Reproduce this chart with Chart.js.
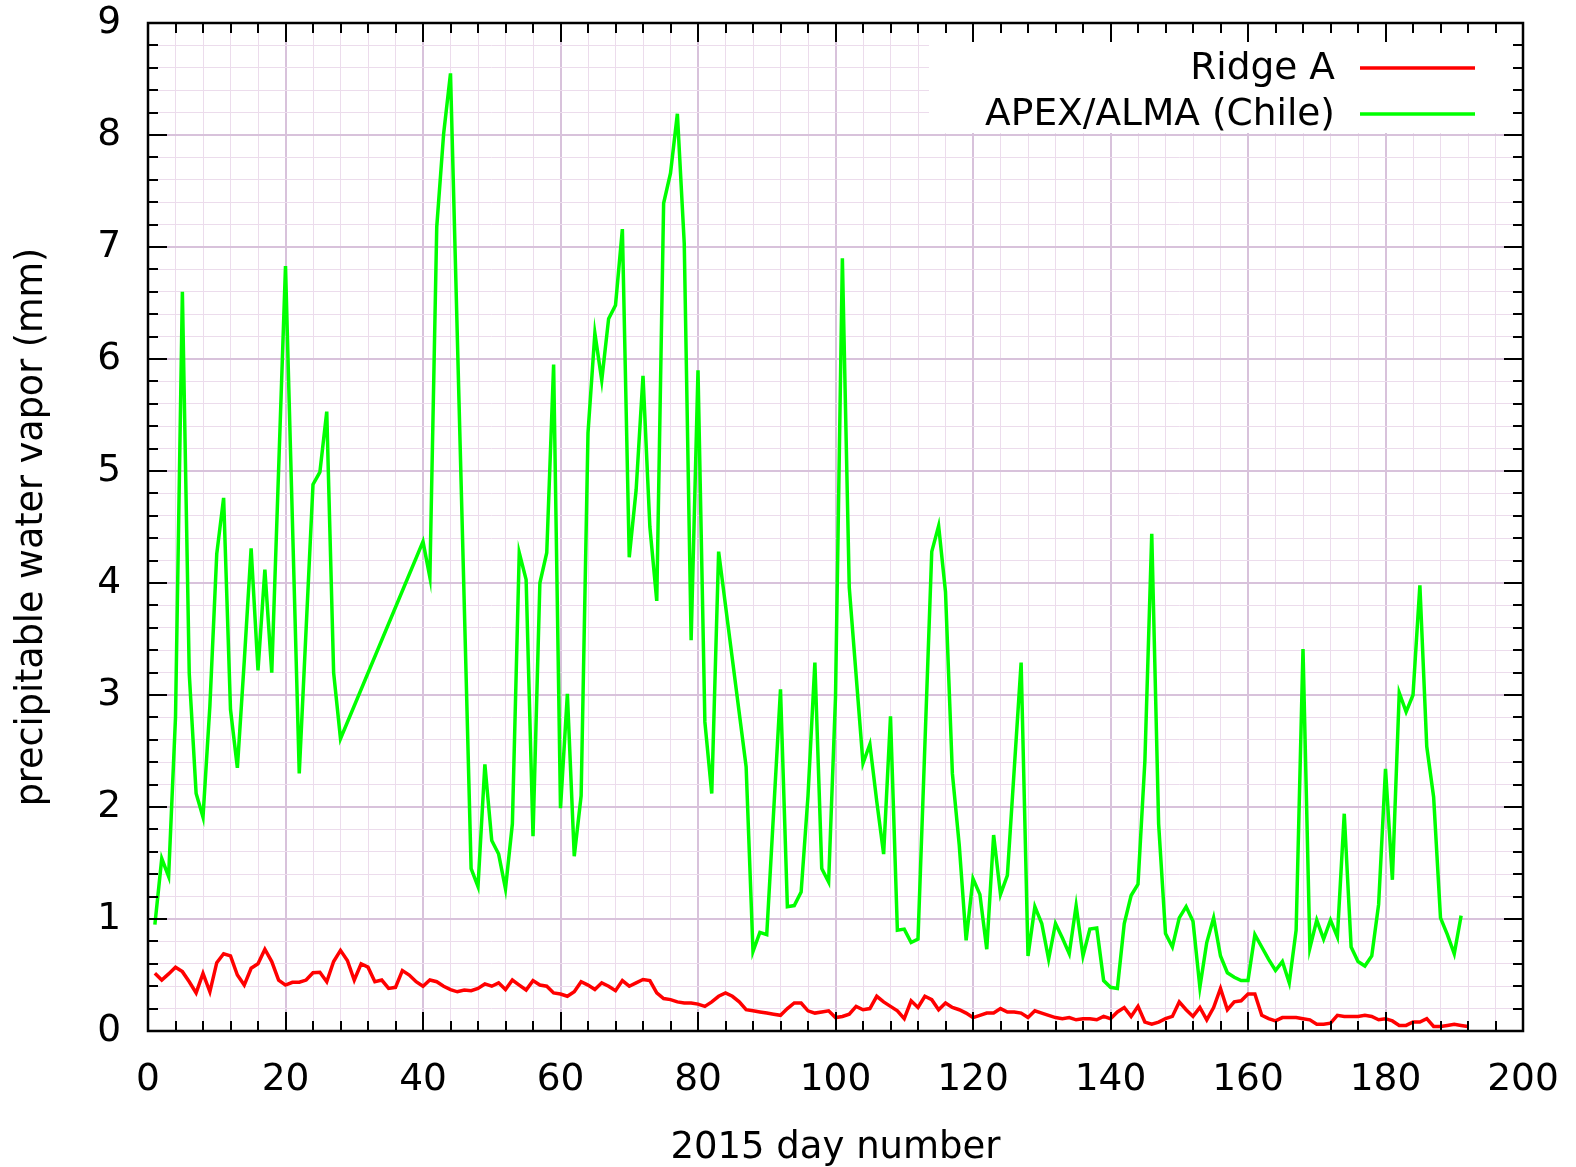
<!DOCTYPE html>
<html>
<head>
<meta charset="utf-8">
<script src="https://cdn.jsdelivr.net/npm/chart.js@4/dist/chart.umd.min.js"></script>
<style>
  html, body { margin: 0; padding: 0; background: #fff; }
  #wrap { width: 1576px; height: 1167px; }
</style>
</head>
<body>
<div id="wrap"><canvas id="c" width="1576" height="1167"></canvas></div>
<script>
// ---- data ----
const seriesNames = ['Ridge A', 'APEX/ALMA (Chile)'];

const ridgeDays = [1,2,3,4,5,6,7,8,9,10,11,12,13,14,15,16,17,18,19,20,21,22,23,24,25,26,27,28,29,30,
  31,32,33,34,35,36,37,38,39,40,41,42,43,44,45,46,47,48,49,50,51,52,53,54,55,56,57,58,59,60,
  61,62,63,64,65,66,67,68,69,70,71,72,73,74,75,76,77,78,79,80,81,82,83,84,85,86,87,88,89,90,
  91,92,93,94,95,96,97,98,99,100,101,102,103,104,105,106,107,108,109,110,111,112,113,114,115,116,117,118,119,120,
  121,122,123,124,125,126,127,128,129,130,131,132,133,134,135,136,137,138,139,140,141,142,143,144,145,146,147,148,149,150,
  151,152,153,154,155,156,157,158,159,160,161,162,163,164,165,166,167,168,169,170,171,172,173,174,175,176,177,178,179,180,
  181,182,183,184,185,186,187,188,189,190,191,192];
const ridgeValues = [0.515,0.455,0.51,0.57,0.53,0.44,0.34,0.515,0.35,0.61,0.69,0.67,0.50,0.41,0.56,0.60,0.73,0.62,0.455,0.41,
  0.435,0.435,0.455,0.52,0.525,0.44,0.62,0.72,0.63,0.455,0.60,0.57,0.44,0.455,0.38,0.39,0.54,0.50,0.44,0.40,
  0.455,0.44,0.40,0.37,0.35,0.366,0.36,0.38,0.42,0.40,0.43,0.37,0.455,0.41,0.366,0.45,0.41,0.40,0.34,0.33,
  0.31,0.35,0.44,0.41,0.37,0.43,0.40,0.36,0.45,0.40,0.43,0.46,0.45,0.34,0.29,0.28,0.26,0.25,0.25,0.24,
  0.22,0.26,0.31,0.34,0.31,0.26,0.19,0.18,0.17,0.16,0.15,0.14,0.20,0.25,0.25,0.18,0.16,0.17,0.18,0.12,
  0.13,0.15,0.22,0.19,0.20,0.31,0.26,0.22,0.18,0.11,0.27,0.21,0.31,0.28,0.19,0.25,0.21,0.19,0.16,0.12,
  0.14,0.16,0.16,0.20,0.17,0.17,0.16,0.12,0.18,0.16,0.14,0.12,0.11,0.12,0.10,0.11,0.11,0.10,0.13,0.11,
  0.17,0.21,0.13,0.22,0.08,0.06,0.08,0.11,0.13,0.26,0.19,0.13,0.21,0.10,0.21,0.38,0.19,0.26,0.27,0.33,
  0.33,0.14,0.11,0.09,0.12,0.12,0.12,0.11,0.10,0.06,0.06,0.07,0.14,0.13,0.13,0.13,0.14,0.13,0.10,0.11,
  0.09,0.05,0.05,0.08,0.08,0.11,0.04,0.04,0.05,0.06,0.05,0.04];

const apexDays = [1,2,3,4,5,6,7,8,9,10,11,12,13,14,15,16,17,18,20,22,24,25,26,27,28,
  40,41,42,43,44,47,48,49,50,51,52,53,54,55,56,57,58,59,60,61,62,63,64,65,66,67,68,69,70,
  71,72,73,74,75,76,77,78,79,80,81,82,83,87,88,89,90,92,93,94,95,96,97,98,99,100,
  101,102,104,105,106,107,108,109,110,111,112,114,115,116,117,118,119,120,121,122,123,124,125,127,128,129,130,
  131,132,133,134,135,136,137,138,139,140,141,142,143,144,145,146,147,148,149,150,151,152,153,154,155,156,157,158,159,160,
  161,162,163,164,165,166,167,168,169,170,171,172,173,174,175,176,177,178,179,180,181,182,183,184,185,186,187,188,189,190,191];
const apexValues = [0.95,1.54,1.38,2.8,6.6,3.19,2.12,1.91,2.9,4.26,4.76,2.87,2.35,3.3,4.31,3.22,4.12,3.2,6.83,2.3,4.88,4.99,5.53,3.2,2.61,
  4.37,4.05,7.18,8.01,8.55,1.45,1.29,2.38,1.70,1.58,1.27,1.85,4.27,4.03,1.74,4.0,4.27,5.95,1.99,3.01,1.56,2.10,5.34,6.23,5.81,6.36,6.48,7.16,4.23,
  4.83,5.85,4.5,3.84,7.39,7.66,8.19,7.03,3.49,5.9,2.76,2.12,4.28,2.36,0.71,0.88,0.86,3.05,1.11,1.12,1.24,2.1,3.29,1.45,1.33,2.98,
  6.90,3.96,2.39,2.56,2.05,1.58,2.81,0.90,0.91,0.79,0.82,4.28,4.51,3.92,2.30,1.66,0.81,1.36,1.22,0.73,1.75,1.22,1.39,3.29,0.67,1.11,0.96,
  0.64,0.96,0.83,0.69,1.12,0.67,0.91,0.92,0.45,0.39,0.38,0.96,1.21,1.31,2.41,4.44,1.85,0.87,0.75,1.01,1.11,0.98,0.39,0.79,1.01,0.67,0.52,0.48,0.45,0.45,
  0.86,0.75,0.64,0.54,0.62,0.43,0.90,3.41,0.74,0.99,0.82,0.99,0.84,1.94,0.75,0.62,0.58,0.67,1.13,2.34,1.35,3.02,2.85,3.00,3.98,2.54,2.09,1.01,0.86,0.69,1.03];

const xTickLabels = [0, 20, 40, 60, 80, 100, 120, 140, 160, 180, 200];
const yTickLabels = [0, 1, 2, 3, 4, 5, 6, 7, 8, 9];

// ---- styling ----
const FONT = 'DejaVu Sans';
const MAJOR_GRID = '#d8c2db';
const MINOR_GRID = '#ecdcec';

function isMajorX(v) { return xTickLabels.includes(Math.round(v)) && Math.abs(v - Math.round(v)) < 1e-6; }
function isMajorY(v) { return yTickLabels.includes(Math.round(v)) && Math.abs(v - Math.round(v)) < 1e-6; }

function toPoints(xs, ys) { return xs.map((x, i) => ({ x: x, y: ys[i] })); }

const framePlugin = {
  id: 'framePlugin',
  afterDatasetsDraw(chart) {
    const ctx = chart.ctx;
    const a = chart.chartArea;
    ctx.save();
    // legend (key) box, opaque white as in the reference
    const boxLeft = a.right - 594, boxBottom = a.top + 110;
    ctx.fillStyle = '#ffffff';
    ctx.fillRect(boxLeft, a.top, a.right - boxLeft, boxBottom - a.top);
    ctx.font = '37.5px "' + FONT + '"';
    ctx.textAlign = 'right';
    ctx.textBaseline = 'middle';
    chart.data.datasets.forEach((ds, i) => {
      const y = a.top + 45 + i * 46;
      ctx.fillStyle = '#000';
      ctx.fillText(ds.label, a.right - 188, y + 1);
      ctx.strokeStyle = ds.borderColor;
      ctx.lineWidth = 3.5;
      ctx.beginPath();
      ctx.moveTo(a.right - 163, y);
      ctx.lineTo(a.right - 48, y);
      ctx.stroke();
    });
    // tick marks pointing inward on all four sides
    ctx.strokeStyle = '#000';
    ctx.lineWidth = 2;
    const xs = chart.scales.x, ys = chart.scales.y;
    xs.ticks.forEach(t => {
      const px = Math.round(xs.getPixelForValue(t.value));
      const len = isMajorX(t.value) ? 19 : 10;
      ctx.beginPath();
      ctx.moveTo(px, a.bottom); ctx.lineTo(px, a.bottom - len);
      ctx.moveTo(px, a.top); ctx.lineTo(px, a.top + len);
      ctx.stroke();
    });
    ys.ticks.forEach(t => {
      const py = Math.round(ys.getPixelForValue(t.value));
      const len = isMajorY(t.value) ? 19 : 10;
      ctx.beginPath();
      ctx.moveTo(a.left, py); ctx.lineTo(a.left + len, py);
      ctx.moveTo(a.right, py); ctx.lineTo(a.right - len, py);
      ctx.stroke();
    });
    ctx.lineWidth = 2.5;
    ctx.strokeRect(a.left, a.top, a.right - a.left, a.bottom - a.top);
    ctx.restore();
  }
};

Chart.defaults.font.family = FONT;
Chart.defaults.color = '#000';

new Chart(document.getElementById('c'), {
  type: 'line',
  data: {
    datasets: [
      { label: seriesNames[0], data: toPoints(ridgeDays, ridgeValues), borderColor: '#ff0000',
        borderWidth: 3.5, pointRadius: 0, tension: 0, fill: false },
      { label: seriesNames[1], data: toPoints(apexDays, apexValues), borderColor: '#00ff00',
        borderWidth: 3.5, pointRadius: 0, tension: 0, fill: false }
    ]
  },
  options: {
    responsive: false,
    animation: false,
    devicePixelRatio: 1,
    layout: { padding: { left: 0, top: 23, right: 53, bottom: 0 } },
    plugins: { legend: { display: false }, tooltip: { enabled: false } },
    scales: {
      x: {
        type: 'linear', min: 0, max: 200,
        ticks: {
          stepSize: 4, autoSkip: false, maxRotation: 0, padding: 27,
          font: { size: 37.5 },
          callback: v => isMajorX(v) ? String(Math.round(v)) : ''
        },
        grid: {
          drawTicks: false,
          color: c => (c.tick && isMajorX(c.tick.value)) ? MAJOR_GRID : MINOR_GRID,
          lineWidth: c => (c.tick && isMajorX(c.tick.value)) ? 2 : 1
        },
        border: { display: false },
        title: { display: true, text: '2015 day number', font: { size: 37, lineHeight: 1.0 }, padding: { top: 0, bottom: 0 } },
        afterFit: s => { s.height = 136; s.paddingLeft = 0; s.paddingRight = 0; }
      },
      y: {
        type: 'linear', min: 0, max: 9,
        ticks: {
          stepSize: 0.2, autoSkip: false, padding: 27,
          font: { size: 37.5 },
          callback: v => isMajorY(v) ? String(Math.round(v)) : ''
        },
        grid: {
          drawTicks: false,
          color: c => (c.tick && isMajorY(c.tick.value)) ? MAJOR_GRID : MINOR_GRID,
          lineWidth: c => (c.tick && isMajorY(c.tick.value)) ? 2 : 1
        },
        border: { display: false },
        title: { display: true, text: 'precipitable water vapor (mm)', font: { size: 36.5 }, padding: { top: 11, bottom: 0 } },
        afterFit: s => { s.width = 148; s.paddingTop = 0; s.paddingBottom = 0; }
      }
    }
  },
  plugins: [framePlugin]
});
</script>
</body>
</html>
